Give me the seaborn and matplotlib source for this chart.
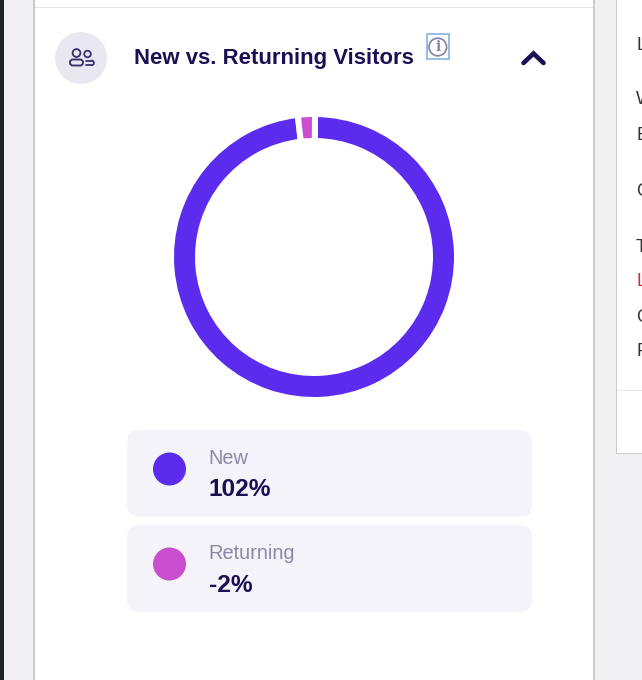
import matplotlib
matplotlib.use("Agg")
import matplotlib.pyplot as plt
from matplotlib.patches import Rectangle, FancyBboxPatch, Circle, Arc
import pandas as pd
import seaborn as sns

# --- data ---
categories = ["New", "Returning"]
values = [102, -2]
colors = ["#5b2bee", "#cb4dd0"]
title = "New vs. Returning Visitors"
side_letters = ["L", "W", "E", "C", "T", "L", "C", "F"]
side_colors = ["#333333"] * 5 + ["#c9302c"] + ["#333333"] * 2

sns.set_theme(style="white")
plt.rcParams["font.family"] = ["Liberation Sans", "DejaVu Sans"]

NAVY = "#1c0f54"
MUTED = "#8c88a6"
W, H = 642, 680
fig = plt.figure(figsize=(W / 100, H / 100), dpi=100, facecolor="#f1f1f3")
px = 72 / 100

# page layer in pixel units
bg = fig.add_axes([0, 0, 1, 1])
bg.set_xlim(0, W)
bg.set_ylim(H, 0)
bg.axis("off")

def rect(x0, y0, x1, y1, color, z=1):
    bg.add_patch(Rectangle((x0, y0), x1 - x0, y1 - y0, fc=color, ec="none", zorder=z))

rect(0, 0, 4, H, "#202325")
rect(33, 0, 595, H, "#cbcbce")
rect(34.5, 0, 593, H, "white")
rect(34.5, 7, 593, 8, "#e4e4e7", 2)
rect(616, 0, W, 454, "#cbcbce")
rect(617, 0, W, 453, "white")
rect(617, 390, W, 391, "#e6e6e8", 2)

side_y = [45, 100, 136, 191, 247, 282, 317, 352]
for letter, y, c in zip(side_letters, side_y, side_colors):
    bg.text(636, y, letter, color=c, fontsize=18 * px, va="center", ha="left", zorder=3)

# header
ICON = "#3a3070"
bg.add_patch(Circle((81, 58), 26, fc="#e9e8f0", ec="none", zorder=2))
bg.add_patch(Circle((76.5, 53), 3.9, fc="none", ec=ICON, lw=1.8 * px, zorder=3))
bg.add_patch(Circle((87.5, 54), 3.3, fc="none", ec=ICON, lw=1.8 * px, zorder=3))
bg.add_patch(FancyBboxPatch((70, 59.5), 13, 6, boxstyle="round,pad=0,rounding_size=2.9",
                            fc="none", ec=ICON, lw=1.9 * px, zorder=3))
bg.plot([86, 91.5], [60.5, 60.5], color=ICON, lw=1.8 * px, zorder=3, solid_capstyle="round")
bg.plot([86, 91.5], [65.3, 65.3], color=ICON, lw=1.8 * px, zorder=3, solid_capstyle="round")
bg.add_patch(Arc((91.5, 62.9), 4.8, 4.8, theta1=-90, theta2=90, ec=ICON, lw=1.8 * px, zorder=3))

bg.text(134, 58.5, title, color=NAVY, fontsize=22.1 * px, fontweight="bold", va="center", ha="left", zorder=3)

bg.add_patch(Rectangle((427, 34), 22, 25, fc="#fbfdff", ec="#8fb8e4", lw=1.8 * px, zorder=2))
bg.add_patch(Circle((437.8, 47), 8.8, fc="none", ec="#8a83a8", lw=1.7 * px, zorder=3))
bg.text(437.8, 47.3, "i", color="#8a83a8", fontsize=14 * px, fontweight="bold", family="DejaVu Serif",
        va="center", ha="center", zorder=4)

bg.plot([523.5, 533.5, 543.5], [63, 53.5, 63], color=NAVY, lw=4.6 * px, zorder=3,
        solid_capstyle="round", solid_joinstyle="miter")

# legend cards
card_x0, card_x1 = 127, 532
card_tops = [430, 525]
card_h = 87
dot_x = 169.5
for cat, val, top in zip(categories, values, card_tops):
    bg.add_patch(FancyBboxPatch((card_x0, top), card_x1 - card_x0, card_h,
                                boxstyle="round,pad=0,rounding_size=13",
                                fc="#f4f3f9", ec="none", zorder=2))
    bg.text(208.3, top + 28.5, cat, color=MUTED, fontsize=20 * px, va="center", ha="left", zorder=3)
    bg.text(209, top + 60, f"{val}%", color=NAVY, fontsize=24.5 * px, fontweight="bold",
            va="center", ha="left", zorder=3)

dots = pd.DataFrame({
    "category": categories,
    "x": [dot_x] * len(categories),
    "y": [t + 39 for t in card_tops],
})
sns.scatterplot(data=dots, x="x", y="y", hue="category", palette=dict(zip(categories, colors)),
                s=(33 * px) ** 2, linewidth=0, legend=False, ax=bg, zorder=4)
bg.set_xlim(0, W)
bg.set_ylim(H, 0)
bg.axis("off")

# donut
cx, cy, R, ring = 314, 257, 143, 27
ax = fig.add_axes([(cx - R) / W, 1 - (cy + R) / H, 2 * R / W, 2 * R / H])
ax.patch.set_alpha(0)
ax.pie([abs(v) for v in values], colors=colors, startangle=89.6, counterclock=False,
       radius=1, wedgeprops=dict(width=ring / R, edgecolor="white", linewidth=6 * px))
ax.set_xlim(-1, 1)
ax.set_ylim(-1, 1)
ax.set_aspect("equal")

fig.savefig("out.png", dpi=100, facecolor=fig.get_facecolor())
